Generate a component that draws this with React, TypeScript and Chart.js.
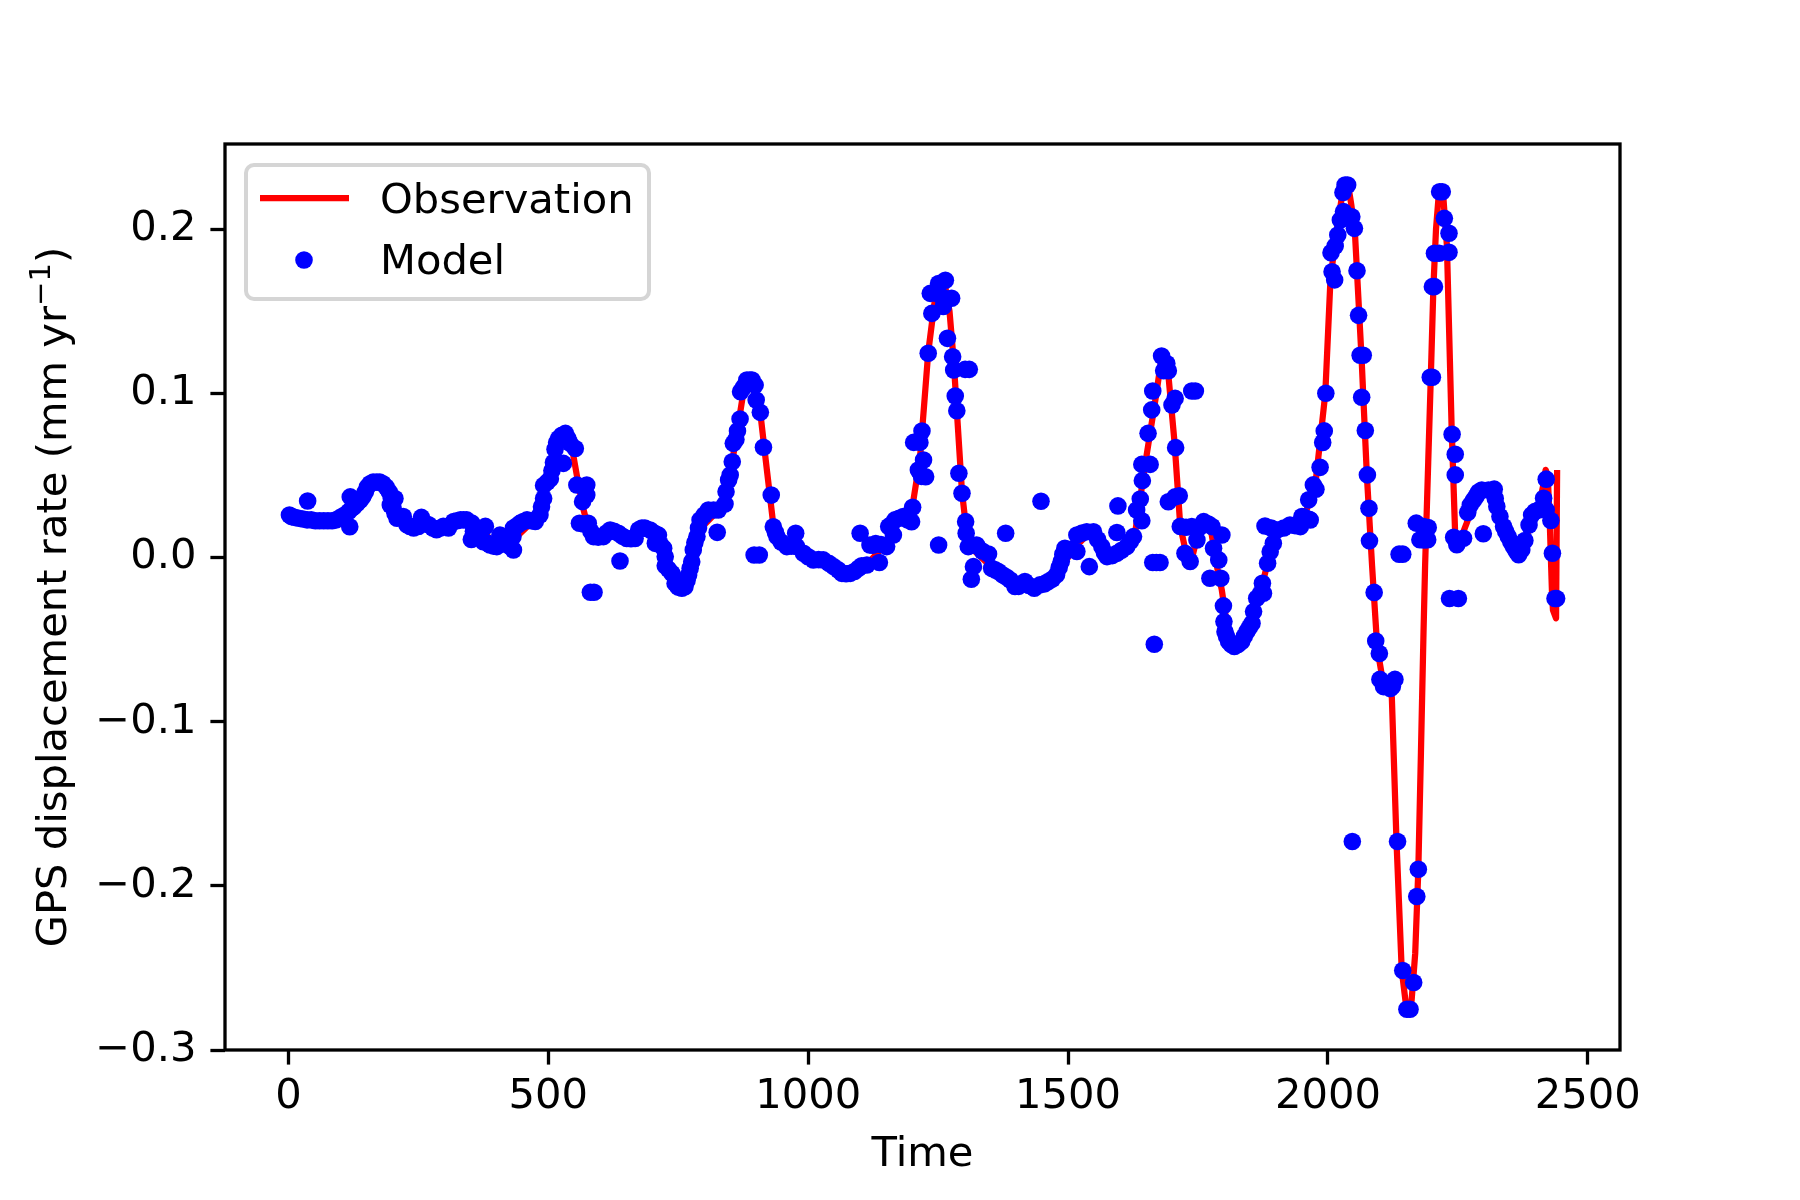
import { useEffect, useRef } from 'react';
import { Chart, registerables } from 'chart.js';

Chart.register(...registerables);

// [time, rate] pairs
const observationPoints: [number, number][] = [
  [0, 0.025], [40, 0.023], [80, 0.0225], [100, 0.024], [120, 0.029], [140, 0.035], [160, 0.045], [180, 0.045],
  [200, 0.034], [220, 0.024], [250, 0.02], [300, 0.018], [340, 0.023], [370, 0.017], [400, 0.008], [430, 0.01],
  [470, 0.022], [490, 0.035], [510, 0.058], [530, 0.074], [545, 0.068], [555, 0.05], [565, 0.033], [575, 0.02],
  [590, 0.012], [620, 0.015], [660, 0.012], [690, 0.017], [720, 0.008], [745, -0.015], [760, -0.019], [775, -0.005],
  [800, 0.02], [840, 0.033], [860, 0.07], [875, 0.1], [885, 0.107], [898, 0.1], [908, 0.088], [920, 0.055],
  [933, 0.02], [950, 0.008], [990, 0.002], [1040, -0.004], [1080, -0.01], [1110, -0.005], [1140, 0.005], [1170, 0.02],
  [1200, 0.03], [1215, 0.06], [1231, 0.125], [1245, 0.16], [1262, 0.168], [1272, 0.15], [1280, 0.12], [1296, 0.04],
  [1305, 0.015], [1320, 0.004], [1350, -0.005], [1400, -0.017], [1440, -0.019], [1480, -0.01], [1510, 0.005], [1540, 0.015],
  [1570, 0.003], [1600, 0.004], [1630, 0.017], [1650, 0.06], [1670, 0.1], [1680, 0.122], [1692, 0.115], [1705, 0.07],
  [1716, 0.019], [1727, 0.003], [1738, -0.001], [1748, 0.012], [1760, 0.02], [1776, 0.015], [1785, -0.003], [1796, -0.02],
  [1810, -0.05], [1820, -0.054], [1835, -0.05], [1855, -0.035], [1875, -0.015], [1890, 0.005], [1905, 0.017], [1950, 0.022],
  [1975, 0.042], [1995, 0.1], [2005, 0.17], [2015, 0.195], [2028, 0.222], [2040, 0.225], [2045, 0.215], [2052, 0.198],
  [2065, 0.12], [2075, 0.05], [2085, -0.005], [2095, -0.055], [2105, -0.074], [2123, -0.085], [2132, -0.173], [2142, -0.251],
  [2150, -0.272], [2155, -0.275], [2161, -0.27], [2168, -0.241], [2174, -0.19], [2179, -0.119], [2184, -0.045], [2187, -0.005],
  [2193, 0.058], [2198, 0.11], [2203, 0.165], [2208, 0.2], [2213, 0.22], [2222, 0.22], [2229, 0.19], [2238, 0.08],
  [2245, 0.0128], [2250, 0.007], [2267, 0.021], [2285, 0.037], [2300, 0.041], [2320, 0.04], [2340, 0.018], [2365, 0.002],
  [2380, 0.01], [2395, 0.026], [2405, 0.03], [2415, 0.045], [2419, 0.0535], [2423, 0.05], [2427, 0.02], [2431, -0.02],
  [2433, -0.032], [2439, -0.037], [2441, 0.0534],
];

const modelPoints: [number, number][] = [
  [2, 0.026], [6, 0.025], [12, 0.0245], [20, 0.024], [28, 0.0235], [36, 0.023], [37, 0.0345], [44, 0.023],
  [52, 0.0225], [60, 0.0225], [68, 0.0225], [76, 0.0225], [84, 0.0225], [92, 0.023], [100, 0.0245], [108, 0.026],
  [116, 0.028], [118, 0.0188], [119, 0.037], [122, 0.03], [126, 0.031], [132, 0.033], [138, 0.035], [143, 0.037],
  [148, 0.04], [152, 0.043], [157, 0.045], [163, 0.046], [170, 0.046], [176, 0.046], [182, 0.045], [188, 0.043],
  [194, 0.04], [196, 0.032], [198, 0.036], [201, 0.031], [205, 0.036], [205, 0.027], [209, 0.024], [215, 0.025],
  [221, 0.025], [228, 0.02], [234, 0.019], [241, 0.018], [250, 0.019], [256, 0.0245], [263, 0.021], [270, 0.02],
  [278, 0.018], [285, 0.017], [292, 0.018], [298, 0.019], [308, 0.018], [318, 0.022], [324, 0.0225], [331, 0.023],
  [337, 0.023], [343, 0.023], [353, 0.021], [356, 0.016], [352, 0.011], [366, 0.016], [372, 0.017], [379, 0.019],
  [375, 0.0097], [382, 0.009], [388, 0.0077], [395, 0.007], [401, 0.0067], [407, 0.0137], [412, 0.01], [417, 0.0087],
  [425, 0.007], [433, 0.0046], [432, 0.0127], [433, 0.018], [440, 0.0195], [446, 0.021], [452, 0.022], [459, 0.023],
  [467, 0.0225], [475, 0.022], [484, 0.026], [487, 0.031], [491, 0.036], [491, 0.044], [498, 0.046], [504, 0.048],
  [507, 0.053], [510, 0.058], [513, 0.066], [516, 0.07], [520, 0.0726], [526, 0.0745], [533, 0.0757], [529, 0.0574],
  [538, 0.0725], [542, 0.0696], [552, 0.0665], [555, 0.0442], [566, 0.0341], [574, 0.0442], [574, 0.0381], [560, 0.0209],
  [568, 0.0205], [577, 0.0209], [582, 0.016], [587, 0.0128], [581, -0.0211], [588, -0.0211], [596, 0.0125], [606, 0.0128],
  [612, 0.015], [619, 0.0168], [627, 0.016], [635, 0.0148], [638, -0.0021], [643, 0.013], [651, 0.0117], [659, 0.0115],
  [667, 0.0117], [674, 0.017], [680, 0.018], [686, 0.018], [696, 0.0168], [704, 0.015], [712, 0.0137], [706, 0.0087],
  [716, 0.008], [722, 0.0057], [725, 0.0006], [725, -0.005], [731, -0.007], [738, -0.0096], [744, -0.0157], [750, -0.018],
  [757, -0.0187], [763, -0.0177], [767, -0.014], [770, -0.0106], [773, -0.0065], [776, -0.0025], [779, 0.0046], [782, 0.009],
  [786, 0.0128], [789, 0.018], [792, 0.0229], [800, 0.026], [808, 0.029], [818, 0.029], [825, 0.0154], [827, 0.029],
  [840, 0.0327], [842, 0.0402], [847, 0.0473], [850, 0.0503], [854, 0.0584], [856, 0.0696], [861, 0.072], [864, 0.0771],
  [869, 0.0844], [870, 0.1011], [876, 0.104], [882, 0.1082], [888, 0.1082], [892, 0.1082], [898, 0.1051], [900, 0.096],
  [908, 0.0885], [914, 0.0672], [929, 0.0381], [933, 0.0188], [937, 0.0155], [896, 0.0016], [906, 0.0016], [940, 0.0128],
  [948, 0.0095], [959, 0.0067], [968, 0.007], [976, 0.0148], [978, 0.0067], [991, 0.0026], [1000, 0.0005], [1010, -0.0014],
  [1020, -0.0012], [1029, -0.0014], [1040, -0.0035], [1049, -0.0055], [1058, -0.0075], [1065, -0.0096], [1073, -0.0098], [1081, -0.0096],
  [1089, -0.0085], [1097, -0.0065], [1100, 0.0148], [1103, -0.005], [1113, -0.0045], [1119, 0.0077], [1124, 0.0075], [1137, -0.003],
  [1130, 0.0085], [1140, 0.008], [1151, 0.0067], [1155, 0.0189], [1160, 0.02], [1164, 0.0138], [1167, 0.023], [1175, 0.024],
  [1183, 0.025], [1191, 0.023], [1199, 0.0219], [1201, 0.0307], [1212, 0.0534], [1222, 0.0595], [1226, 0.0493], [1218, 0.0495],
  [1203, 0.0702], [1215, 0.0702], [1219, 0.0771], [1231, 0.1245], [1235, 0.161], [1238, 0.1488], [1247, 0.161], [1251, 0.167],
  [1251, 0.0077], [1257, 0.159], [1260, 0.153], [1264, 0.169], [1268, 0.1336], [1276, 0.158], [1278, 0.1224], [1280, 0.1143],
  [1283, 0.0985], [1286, 0.0895], [1290, 0.0514], [1296, 0.0392], [1302, 0.1147], [1310, 0.1147], [1303, 0.0219], [1304, 0.0148],
  [1308, 0.0067], [1314, -0.0132], [1318, -0.0055], [1316, 0.0075], [1324, 0.0077], [1335, 0.004], [1347, 0.0022], [1353, -0.0065],
  [1360, -0.0075], [1366, -0.0085], [1374, -0.0105], [1380, 0.0148], [1382, -0.012], [1389, -0.0136], [1398, -0.0176], [1405, -0.0175],
  [1417, -0.0146], [1425, -0.017], [1435, -0.0187], [1446, -0.0166], [1448, 0.0343], [1455, -0.016], [1462, -0.0146], [1470, -0.013],
  [1478, -0.0105], [1483, -0.006], [1487, -0.0024], [1490, 0.002], [1494, 0.0057], [1505, 0.005], [1517, 0.0037], [1517, 0.0138],
  [1527, 0.015], [1536, 0.0158], [1549, 0.0158], [1541, -0.0055], [1557, 0.011], [1565, 0.0067], [1570, 0.003], [1575, 0.0006],
  [1585, 0.0012], [1594, 0.0026], [1596, 0.0315], [1594, 0.0153], [1603, 0.0045], [1613, 0.0067], [1620, 0.01], [1626, 0.0128],
  [1632, 0.029], [1642, 0.0225], [1639, 0.0357], [1643, 0.0469], [1642, 0.0568], [1658, 0.0568], [1654, 0.0757], [1661, 0.09],
  [1663, 0.1015], [1666, -0.0528], [1663, -0.003], [1670, -0.003], [1677, -0.003], [1680, 0.1228], [1684, 0.1139], [1690, 0.1183],
  [1693, 0.1139], [1693, 0.034], [1700, 0.093], [1706, 0.097], [1706, 0.037], [1707, 0.067], [1714, 0.0377], [1716, 0.019],
  [1725, 0.0026], [1727, 0.0185], [1735, -0.0024], [1738, 0.0189], [1738, 0.1015], [1745, 0.1015], [1748, 0.0107], [1748, 0.0168],
  [1755, 0.019], [1761, 0.0219], [1770, 0.0205], [1777, 0.0189], [1773, -0.0126], [1780, 0.0057], [1790, -0.0014], [1794, -0.0126],
  [1796, 0.0138], [1799, -0.0294], [1800, -0.039], [1802, -0.0451], [1805, -0.048], [1809, -0.0512], [1814, -0.053], [1820, -0.0542],
  [1827, -0.053], [1834, -0.0512], [1839, -0.048], [1844, -0.0451], [1849, -0.0425], [1854, -0.04], [1857, -0.0329], [1863, -0.0248],
  [1870, -0.022], [1874, -0.0156], [1876, -0.0217], [1879, 0.0193], [1884, -0.0034], [1889, 0.0036], [1895, 0.0087], [1891, 0.018],
  [1902, 0.0168], [1915, 0.018], [1927, 0.0199], [1937, 0.0195], [1943, 0.02], [1947, 0.0189], [1950, 0.025], [1953, 0.0249],
  [1963, 0.0352], [1964, 0.0234], [1966, 0.0229], [1972, 0.0443], [1977, 0.0417], [1985, 0.055], [1990, 0.0701], [1993, 0.0772],
  [1996, 0.1001], [2006, 0.1858], [2008, 0.1742], [2013, 0.1692], [2014, 0.1899], [2019, 0.1966], [2024, 0.2057], [2029, 0.2225],
  [2030, 0.2108], [2033, 0.227], [2038, 0.227], [2046, 0.2077], [2047, -0.173], [2051, 0.2006], [2056, 0.1748], [2059, 0.1476],
  [2062, 0.1233], [2068, 0.1233], [2065, 0.0977], [2072, 0.0774], [2076, 0.0504], [2079, 0.0301], [2080, 0.0102], [2089, -0.0212],
  [2092, -0.0508], [2099, -0.0584], [2100, -0.0742], [2107, -0.0786], [2113, -0.0766], [2120, -0.0797], [2129, -0.0742], [2124, -0.0785],
  [2134, -0.173], [2137, 0.0021], [2144, 0.0021], [2144, -0.2516], [2152, -0.2752], [2158, -0.2752], [2165, -0.2589], [2170, 0.021],
  [2171, -0.2065], [2174, -0.1899], [2177, 0.0109], [2184, 0.0189], [2185, 0.0107], [2192, 0.0109], [2193, 0.0183], [2197, 0.1099],
  [2201, 0.1099], [2201, 0.1651], [2205, 0.1651], [2205, 0.1854], [2214, 0.1854], [2215, 0.2229], [2220, 0.2229], [2224, 0.2067],
  [2233, 0.1976], [2233, 0.186], [2234, -0.0249], [2239, 0.0752], [2245, 0.063], [2245, 0.0504], [2242, 0.0124], [2248, 0.0078],
  [2251, -0.0249], [2261, 0.0118], [2269, 0.0275], [2274, 0.0321], [2280, 0.035], [2285, 0.0372], [2290, 0.04], [2296, 0.0412],
  [2299, 0.0145], [2309, 0.0412], [2320, 0.0417], [2322, 0.036], [2325, 0.0311], [2331, 0.025], [2338, 0.0189], [2342, 0.016],
  [2347, 0.0128], [2352, 0.0095], [2357, 0.0068], [2362, 0.004], [2367, 0.0017], [2373, 0.0047], [2379, 0.0104], [2387, 0.0199],
  [2392, 0.026], [2398, 0.028], [2405, 0.029], [2415, 0.0362], [2420, 0.029], [2420, 0.0478], [2429, 0.0226], [2432, 0.0027],
  [2440, -0.0249], [2437, -0.0249],
];

const yTickValues = [0.2, 0.1, 0, -0.1, -0.2, -0.3];
const yTickLabels = ['0.2', '0.1', '0.0', '\u22120.1', '\u22120.2', '\u22120.3'];
const xTickValues = [0, 500, 1000, 1500, 2000, 2500];

const fontFamily = '"DejaVu Sans"';
const fontSize = 41.67;

// box round the axes, axis titles and the legend
const decorations = {
  id: 'decorations',
  afterDatasetsDraw(chart: Chart) {
    const { ctx, chartArea } = chart;
    const { left, right, top, bottom } = chartArea;
    ctx.save();
    ctx.strokeStyle = '#000';
    ctx.lineWidth = 3.3;
    ctx.strokeRect(left, top, right - left, bottom - top);

    ctx.fillStyle = '#000';
    ctx.textBaseline = 'alphabetic';
    ctx.font = `${fontSize}px ${fontFamily}`;
    ctx.textAlign = 'center';
    ctx.fillText('Time', (left + right) / 2, 1166);

    // y title with a raised exponent
    const head = 'GPS displacement rate (mm yr';
    const tail = ')';
    const sup = '\u22121';
    const supFont = `${fontSize * 0.7}px ${fontFamily}`;
    const headW = ctx.measureText(head).width;
    const tailW = ctx.measureText(tail).width;
    ctx.font = supFont;
    const supW = ctx.measureText(sup).width;
    const total = headW + supW + tailW;
    ctx.save();
    ctx.translate(66, (top + bottom) / 2);
    ctx.rotate(-Math.PI / 2);
    ctx.textAlign = 'left';
    ctx.font = `${fontSize}px ${fontFamily}`;
    ctx.fillText(head, -total / 2, 0);
    ctx.fillText(tail, -total / 2 + headW + supW, 0);
    ctx.font = supFont;
    ctx.fillText(sup, -total / 2 + headW, -16);
    ctx.restore();

    // legend
    ctx.beginPath();
    ctx.roundRect(246, 165, 403, 134, 8);
    ctx.fillStyle = 'rgba(255,255,255,0.8)';
    ctx.fill();
    ctx.strokeStyle = '#d5d5d5';
    ctx.lineWidth = 4;
    ctx.stroke();
    ctx.strokeStyle = '#ff0000';
    ctx.lineWidth = 6.25;
    ctx.beginPath();
    ctx.moveTo(260, 198);
    ctx.lineTo(349, 198);
    ctx.stroke();
    ctx.fillStyle = '#0000ff';
    ctx.beginPath();
    ctx.arc(304, 260, 8.8, 0, Math.PI * 2);
    ctx.fill();
    ctx.fillStyle = '#000';
    ctx.font = `${fontSize}px ${fontFamily}`;
    ctx.textAlign = 'left';
    ctx.fillText('Observation', 380, 213);
    ctx.fillText('Model', 380, 274);
    ctx.restore();
  },
};

const App = () => {
  const canvasRef = useRef<HTMLCanvasElement | null>(null);

  useEffect(() => {
    if (!canvasRef.current) return;
    document.body.style.margin = '0';

    const chart = new Chart(canvasRef.current, {
      type: 'scatter',
      data: {
        datasets: [
          {
            label: 'Model',
            data: modelPoints.map(([x, y]) => ({ x, y })),
            backgroundColor: '#0000ff',
            borderColor: '#0000ff',
            pointRadius: 8.8,
            pointBorderWidth: 0,
            order: 1,
          },
          {
            label: 'Observation',
            data: observationPoints.map(([x, y]) => ({ x, y })),
            showLine: true,
            borderColor: '#ff0000',
            borderWidth: 6.25,
            borderJoinStyle: 'round',
            pointRadius: 0,
            order: 2,
          },
        ],
      },
      options: {
        responsive: false,
        animation: false,
        devicePixelRatio: 1,
        layout: { padding: { left: 0, right: 180, top: 144, bottom: 0 } },
        plugins: { legend: { display: false }, tooltip: { enabled: false } },
        scales: {
          x: {
            type: 'linear',
            min: -122,
            max: 2562,
            afterBuildTicks: (axis: any) => {
              axis.ticks = xTickValues.map((value) => ({ value }));
            },
            afterFit: (axis: any) => {
              axis.height = 150;
            },
            grid: { drawOnChartArea: false, tickLength: 14.6, tickWidth: 3.3, tickColor: '#000' },
            border: { display: false },
            ticks: {
              autoSkip: false,
              maxRotation: 0,
              padding: 8,
              color: '#000',
              font: { family: fontFamily, size: fontSize },
              callback: (value: any) => String(value),
            },
          },
          y: {
            type: 'linear',
            min: -0.3,
            max: 0.252,
            afterBuildTicks: (axis: any) => {
              axis.ticks = yTickValues.map((value) => ({ value }));
            },
            afterFit: (axis: any) => {
              axis.width = 225;
            },
            grid: { drawOnChartArea: false, tickLength: 14.6, tickWidth: 3.3, tickColor: '#000' },
            border: { display: false },
            ticks: {
              autoSkip: false,
              padding: 14,
              color: '#000',
              font: { family: fontFamily, size: fontSize },
              callback: (value: any) => yTickLabels[yTickValues.indexOf(Number(value))],
            },
          },
        },
      },
      plugins: [decorations],
    });

    return () => {
      chart.destroy();
    };
  }, []);

  return <canvas ref={canvasRef} width={1800} height={1200} style={{ display: 'block' }} />;
};

export default App;
